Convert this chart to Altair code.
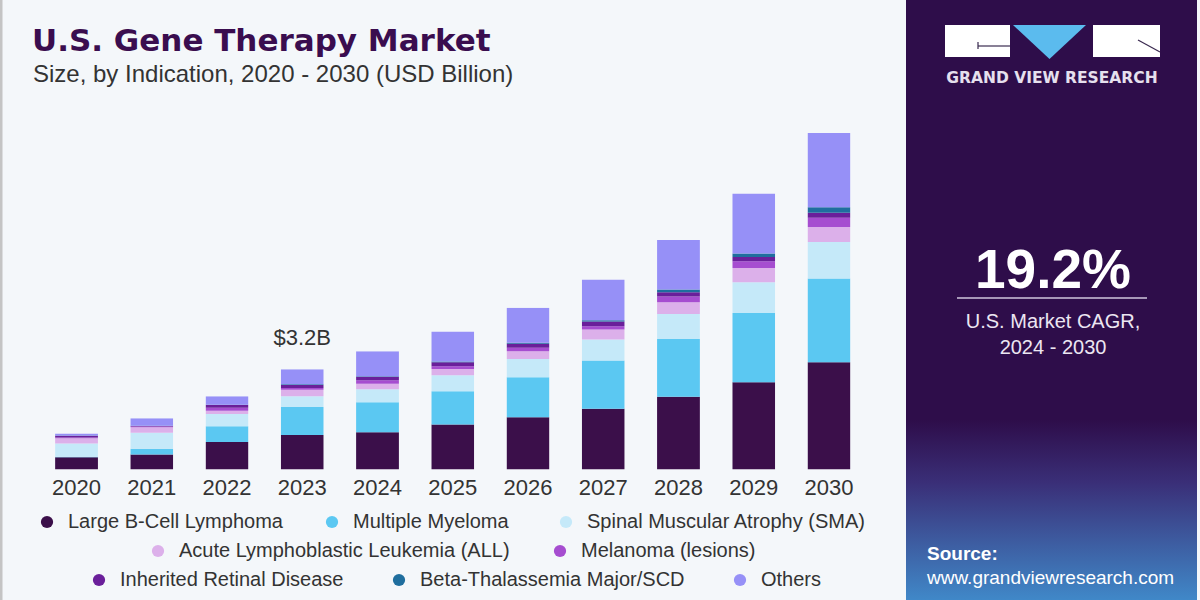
import altair as alt
import pandas as pd

# ---------------- data ----------------
years = [2020, 2021, 2022, 2023, 2024, 2025, 2026, 2027, 2028, 2029, 2030]
indications = [
    "Large B-Cell Lymphoma",
    "Multiple Myeloma",
    "Spinal Muscular Atrophy (SMA)",
    "Acute Lymphoblastic Leukemia (ALL)",
    "Melanoma (lesions)",
    "Inherited Retinal Disease",
    "Beta-Thalassemia Major/SCD",
    "Others",
]
colors = ["#3b0f4a", "#5bc8f2", "#c5e9f9", "#dcb0ea", "#a64dd0", "#6a1f9a", "#1f6e9e", "#9690f7"]

large_b_cell = [0.39, 0.48, 0.88, 1.10, 1.19, 1.44, 1.67, 1.94, 2.32, 2.79, 3.43]
multiple_myeloma = [0.02, 0.18, 0.50, 0.90, 0.96, 1.06, 1.28, 1.54, 1.85, 2.21, 2.67]
sma = [0.42, 0.51, 0.39, 0.34, 0.41, 0.51, 0.58, 0.67, 0.80, 0.98, 1.17]
all_leukemia = [0.17, 0.18, 0.11, 0.21, 0.18, 0.20, 0.25, 0.32, 0.37, 0.46, 0.48]
melanoma = [0.02, 0.02, 0.09, 0.05, 0.11, 0.09, 0.11, 0.11, 0.19, 0.21, 0.29]
retinal = [0.06, 0.02, 0.09, 0.10, 0.11, 0.13, 0.13, 0.15, 0.13, 0.14, 0.16]
beta_thal = [0.01, 0.01, 0.01, 0.02, 0.02, 0.02, 0.03, 0.04, 0.09, 0.11, 0.18]
others = [0.06, 0.24, 0.27, 0.48, 0.80, 0.96, 1.12, 1.30, 1.58, 1.92, 2.37]

series = [large_b_cell, multiple_myeloma, sma, all_leukemia, melanoma, retinal, beta_thal, others]

callout_year = 2023
callout_value = 3.2
callout_text = "$3.2B"

# legend layout (rows of the centred legend)
legend_rows = [0, 0, 0, 1, 1, 2, 2, 2]
legend_cx = [47, 332, 566, 158, 560, 99, 399, 740]
legend_cy_rows = [522, 551, 580]

# ---------------- tables ----------------
rows = []
for i, name in enumerate(indications):
    for y, v in zip(years, series[i]):
        rows.append({"Year": y, "Indication": name, "Value": v, "ord": i})
df = pd.DataFrame(rows)

color_scale = alt.Scale(domain=indications, range=colors)
x_scale = alt.Scale(range=[38.9, 866.6], paddingInner=0.43, paddingOuter=0.215)
y_scale = alt.Scale(domain=[0, 11.5], range=[469.5, 109.5])

FONT = "Liberation Sans, Arial, sans-serif"


def one():
    return alt.Data(values=[{"k": 1}])


# ---------------- layers ----------------
left_border = alt.Chart(one()).mark_rule(color="#c4c4c4", strokeWidth=3).encode(
    x=alt.value(1), y=alt.value(0), y2=alt.value(600)
)

panel = alt.Chart(one()).mark_rect(color="#2e0d4a").encode(
    x=alt.value(906), x2=alt.value(1197), y=alt.value(0), y2=alt.value(600)
)

panel_grad = alt.Chart(one()).mark_rect(
    color={
        "gradient": "linear",
        "x1": 0, "y1": 0, "x2": 0, "y2": 1,
        "stops": [
            {"offset": 0, "color": "#2e0d4a"},
            {"offset": 0.35, "color": "#3a2f78"},
            {"offset": 1, "color": "#4088c8"},
        ],
    }
).encode(x=alt.value(906), x2=alt.value(1197), y=alt.value(420), y2=alt.value(600))

bars = alt.Chart(df).mark_bar(
    cornerRadiusTopLeft={"expr": "datum.Indication === 'Others' ? 3 : 0"},
    cornerRadiusTopRight={"expr": "datum.Indication === 'Others' ? 3 : 0"},
).encode(
    x=alt.X("Year:O", scale=x_scale, axis=None),
    y=alt.Y("Value:Q", stack="zero", scale=y_scale, axis=None),
    color=alt.Color("Indication:N", scale=color_scale, legend=None),
    order=alt.Order("ord:Q", sort="ascending"),
)

year_labels = alt.Chart(pd.DataFrame({"Year": years})).mark_text(
    font=FONT, fontSize=22, color="#333333", baseline="middle"
).encode(x=alt.X("Year:O", scale=x_scale, axis=None), y=alt.value(488), text="Year:O")

callout = alt.Chart(
    pd.DataFrame({"Year": [callout_year], "Value": [callout_value], "label": [callout_text]})
).mark_text(font=FONT, fontSize=22, color="#333333", baseline="middle", dy=-31).encode(
    x=alt.X("Year:O", scale=x_scale, axis=None),
    y=alt.Y("Value:Q", scale=y_scale, axis=None),
    text="label:N",
)

title = alt.Chart(one()).mark_text(
    text="U.S. Gene Therapy Market", font="DejaVu Sans", fontWeight="bold", fontSize=31,
    color="#3a0d4f", align="left", baseline="alphabetic",
).encode(x=alt.value(32), y=alt.value(51))

subtitle = alt.Chart(one()).mark_text(
    text="Size, by Indication, 2020 - 2030 (USD Billion)", font=FONT, fontSize=24,
    color="#333333", align="left", baseline="alphabetic",
).encode(x=alt.value(33), y=alt.value(82))

legend_df = pd.DataFrame({
    "Indication": indications,
    "cx": legend_cx,
    "cy": [legend_cy_rows[r] for r in legend_rows],
    "tx": [c + 21 for c in legend_cx],
})

legend_pts = alt.Chart(legend_df).mark_point(filled=True, shape="circle", size=150, opacity=1).encode(
    x=alt.X("cx:Q", scale=None, axis=None),
    y=alt.Y("cy:Q", scale=None, axis=None),
    color=alt.Color("Indication:N", scale=color_scale, legend=None),
)

legend_txt = alt.Chart(legend_df).mark_text(
    font=FONT, fontSize=20, color="#333333", align="left", baseline="middle"
).encode(
    x=alt.X("tx:Q", scale=None, axis=None),
    y=alt.Y("cy:Q", scale=None, axis=None),
    text="Indication:N",
)

# logo
logo_left = alt.Chart(one()).mark_rect(color="white").encode(
    x=alt.value(945), x2=alt.value(1010), y=alt.value(25), y2=alt.value(57)
)
logo_right = alt.Chart(one()).mark_rect(color="white").encode(
    x=alt.value(1093), x2=alt.value(1160), y=alt.value(25), y2=alt.value(57)
)
logo_tri = alt.Chart(one()).mark_point(
    shape="M-1,-0.466L1,-0.466L0,0.466Z", size=5329, filled=True, color="#5bbbee", opacity=1, strokeWidth=0
).encode(x=alt.value(1049.5), y=alt.value(42))
logo_line1 = alt.Chart(one()).mark_rule(color="#3a2a50", strokeWidth=1.2).encode(
    x=alt.value(978), x2=alt.value(1010), y=alt.value(46), y2=alt.value(46)
)
logo_line2 = alt.Chart(one()).mark_rule(color="#3a2a50", strokeWidth=1.2).encode(
    x=alt.value(978), x2=alt.value(978), y=alt.value(42), y2=alt.value(49)
)
logo_line3 = alt.Chart(one()).mark_rule(color="#3a2a50", strokeWidth=1.2).encode(
    x=alt.value(1138), x2=alt.value(1160), y=alt.value(40), y2=alt.value(52)
)
logo_text = alt.Chart(one()).mark_text(
    text="GRAND VIEW RESEARCH", font="DejaVu Sans", fontWeight="bold", fontSize=15.5,
    color="#e6e0ee", align="center", baseline="middle",
).encode(x=alt.value(1052), y=alt.value(78))

cagr = alt.Chart(one()).mark_text(
    text="19.2%", font=FONT, fontWeight="bold", fontSize=55, color="white",
    align="center", baseline="alphabetic",
).encode(x=alt.value(1053), y=alt.value(288))
cagr_line = alt.Chart(one()).mark_rule(color="#cfc6dc", strokeWidth=1.5).encode(
    x=alt.value(957), x2=alt.value(1147), y=alt.value(298), y2=alt.value(298)
)
cagr_t1 = alt.Chart(one()).mark_text(
    text="U.S. Market CAGR,", font=FONT, fontSize=20, color="#ece6f2", align="center", baseline="middle"
).encode(x=alt.value(1053), y=alt.value(322))
cagr_t2 = alt.Chart(one()).mark_text(
    text="2024 - 2030", font=FONT, fontSize=20, color="#ece6f2", align="center", baseline="middle"
).encode(x=alt.value(1053), y=alt.value(348))

src1 = alt.Chart(one()).mark_text(
    text="Source:", font=FONT, fontWeight="bold", fontSize=19, color="white", align="left", baseline="middle"
).encode(x=alt.value(927), y=alt.value(554))
src2 = alt.Chart(one()).mark_text(
    text="www.grandviewresearch.com", font=FONT, fontSize=19, color="white", align="left", baseline="middle"
).encode(x=alt.value(927), y=alt.value(578))

chart = alt.layer(
    left_border, panel, panel_grad,
    bars, year_labels, callout,
    title, subtitle,
    legend_pts, legend_txt,
    logo_left, logo_right, logo_tri, logo_line1, logo_line2, logo_line3, logo_text,
    cagr, cagr_line, cagr_t1, cagr_t2, src1, src2,
).properties(
    width=1200, height=600, autosize=alt.AutoSizeParams(type="none"), padding=0,
    background="#f4f7fa",
).configure_view(strokeWidth=0)

chart.save("out.html", embed_options={"renderer": "svg", "actions": False})
